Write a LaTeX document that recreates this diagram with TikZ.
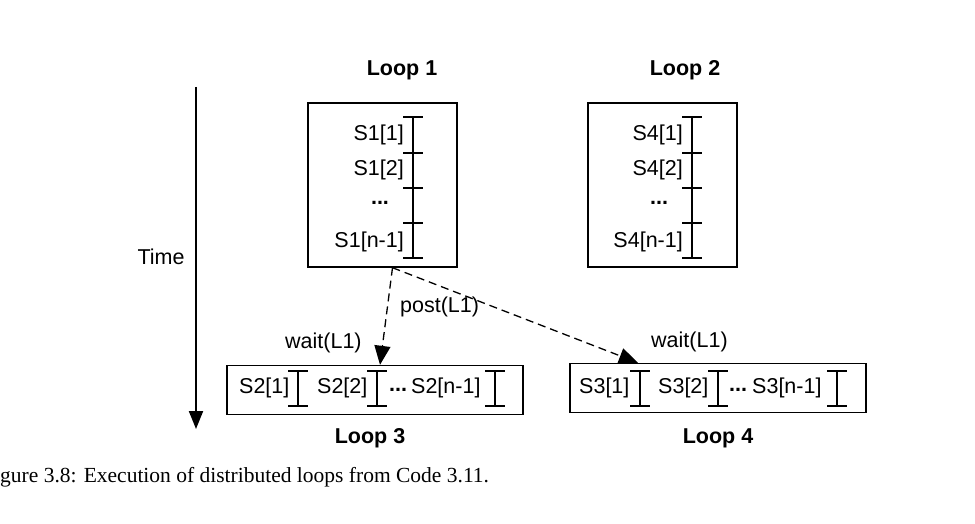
\documentclass[tikz,border=0pt]{standalone}
\usepackage{fontspec}
\setmainfont{Liberation Serif}
\setsansfont{Liberation Sans}
\usetikzlibrary{arrows.meta}
\begin{document}
\begin{tikzpicture}[x=1pt,y=-1pt,
  box/.style={draw,line width=1.4pt,inner sep=0pt,minimum width=149pt,minimum height=164pt},
  hbox/.style={draw,line width=1.4pt,inner sep=0pt,minimum width=296pt,minimum height=49pt},
  lbl/.style={font=\sffamily\fontsize{21.5}{21.5}\selectfont,inner sep=0pt},
  title/.style={font=\sffamily\bfseries\fontsize{21.5}{21.5}\selectfont,inner sep=0pt},
  brk/.style={line width=1.3pt},
  dasharrow/.style={line width=1.3pt,dash pattern=on 8pt off 5pt,-{Triangle[length=19pt,width=16pt]}}
]
\useasboundingbox (0,0) rectangle (975,524);
% titles
\node[title] (t1) at (402,70) {Loop 1};
\node[title] (t2) at (685,70) {Loop 2};
\node[title] (t3) at (370,438) {Loop 3};
\node[title] (t4) at (718,438) {Loop 4};
% time
\coordinate (ts) at (196,87);
\coordinate (te) at (196,429);
\draw[line width=2pt,-{Triangle[length=18pt,width=14pt]}] (ts) -- (te);
\node[lbl] (time) at (161,257) {Time};
% loop 1 and 2 boxes
\node[box] (b1) at (382.5,185) {};
\node[box] (b2) at (662.5,185) {};
% loop 1 contents
\draw[brk] (413,117) -- (413,258);
\foreach \y in {117,153,188,223,258} \draw[brk] (403,\y) -- (423,\y);
\node[lbl,anchor=east] (s11) at (404,135) {S1[1]};
\node[lbl,anchor=east] (s12) at (404,170) {S1[2]};
\node[lbl] (s1d) at (380,203) {\textbf{...}};
\node[lbl,anchor=east] (s1n) at (404,242) {S1[n-1]};
% loop 2 contents
\draw[brk] (692,117) -- (692,258);
\foreach \y in {117,153,188,223,258} \draw[brk] (682,\y) -- (702,\y);
\node[lbl,anchor=east] (s41) at (683,135) {S4[1]};
\node[lbl,anchor=east] (s42) at (683,170) {S4[2]};
\node[lbl] (s4d) at (659,203) {\textbf{...}};
\node[lbl,anchor=east] (s4n) at (683,242) {S4[n-1]};
% loop 3 and 4 boxes
\node[hbox] (b3) at (375,390) {};
\node[hbox] (b4) at (718,388) {};
% loop 3 contents
\node[lbl,anchor=west] (s21) at (239,388) {S2[1]};
\node[lbl,anchor=west] (s22) at (317,388) {S2[2]};
\node[lbl,anchor=west] (s2d) at (389,390) {\textbf{...}};
\node[lbl,anchor=west] (s2n) at (411,388) {S2[n-1]};
\foreach \x in {298,377,495} {
  \draw[brk] (\x,371) -- (\x,406);
  \draw[brk] (\x-10,371) -- (\x+10,371);
  \draw[brk] (\x-10,406) -- (\x+10,406);
}
% loop 4 contents
\node[lbl,anchor=west] (s31) at (579,388) {S3[1]};
\node[lbl,anchor=west] (s32) at (658,388) {S3[2]};
\node[lbl,anchor=west] (s3d) at (729,390) {\textbf{...}};
\node[lbl,anchor=west] (s3n) at (752,388) {S3[n-1]};
\foreach \x in {640,718,837} {
  \draw[brk] (\x,371) -- (\x,406);
  \draw[brk] (\x-10,371) -- (\x+10,371);
  \draw[brk] (\x-10,406) -- (\x+10,406);
}
% dashed arrows
\draw[dasharrow] ([xshift=10pt]b1.south) -- ([xshift=5pt]b3.north);
\draw[dasharrow] ([xshift=10pt]b1.south) -- ([xshift=-80pt]b4.north);
\node[lbl,anchor=west] (post) at (400,307) {post(L1)};
\node[lbl,anchor=west] (w1) at (285,343) {wait(L1)};
\node[lbl,anchor=west] (w2) at (651,342) {wait(L1)};
% caption
\node[anchor=west,inner sep=0pt,font=\fontsize{21.5}{21.5}\selectfont] (cap) at (0,477) {gure 3.8: Execution of distributed loops from Code 3.11.};
\end{tikzpicture}
\end{document}
